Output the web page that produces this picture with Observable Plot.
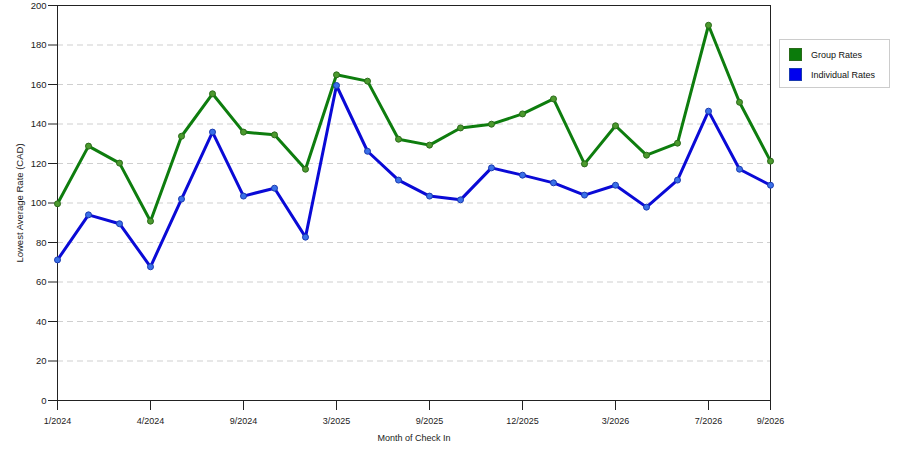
<!DOCTYPE html>
<html>
<head>
<meta charset="utf-8">
<script src="https://cdn.jsdelivr.net/npm/d3@7"></script>
<script src="https://cdn.jsdelivr.net/npm/@observablehq/plot@0.6"></script>
<style>
  html, body { margin: 0; padding: 0; background: #fff; }
  #wrap { position: relative; width: 900px; height: 450px; font-family: "Liberation Sans", Arial, sans-serif; }
  #legend { position: absolute; left: 779px; top: 39px; width: 109px; height: 47px; border: 1px solid #ccc; background: #fff; font-size: 9px; color: #111; }
  .item { position: absolute; left: 9px; height: 13px; }
  .sw { position: absolute; left: 0; top: 0; width: 11px; height: 11px; }
  .lab { position: absolute; left: 22px; top: 1px; white-space: nowrap; line-height: 12px; }
</style>
</head>
<body>
<div id="wrap">
  <div id="chart"></div>
  <div id="legend"></div>
</div>
<script>
const months = ["1/2024","2/2024","3/2024","4/2024","5/2024","7/2024","9/2024","10/2024","12/2024",
  "3/2025","5/2025","7/2025","9/2025","10/2025","11/2025","12/2025","1/2026","2/2026",
  "3/2026","4/2026","6/2026","7/2026","8/2026","9/2026"];
const tickLabels = ["1/2024","4/2024","9/2024","3/2025","9/2025","12/2025","3/2026","7/2026","9/2026"];
const groupRates = [99.6,128.8,120.2,90.8,133.8,155.3,135.9,134.5,117.1,164.9,161.7,132.3,129.3,138,139.9,145.1,152.7,119.8,139.1,124.2,130.3,190,151,121.2];
const individualRates = [71.2,94,89.5,67.7,102,135.9,103.5,107.5,82.7,159.5,126.2,111.6,103.5,101.6,117.8,114.1,110.2,104,109,97.9,111.6,146.5,117.1,109];
const seriesNames = ["Group Rates","Individual Rates"];
const lineColors = ["#0e7d0e","#0a0ad6"];
const dotFill = ["#4c9a2e","#3a70e8"];
const dotStroke = ["#2a6a1a","#1a3ab0"];
const swatchColors = ["#0b7b0b","#0000ee"];
const gridValues = [20,40,60,80,100,120,140,160,180];

const rows = [];
[groupRates, individualRates].forEach((vals, s) => {
  vals.forEach((v, i) => rows.push({series: seriesNames[s], month: months[i], value: v, s}));
});

const chart = Plot.plot({
  width: 900,
  height: 450,
  marginLeft: 57,
  marginRight: 130,
  marginTop: 5,
  marginBottom: 50,
  style: {fontFamily: "'Liberation Sans', Arial, sans-serif", fontSize: "9px", color: "#222", background: "#fff"},
  x: {type: "point", domain: months, padding: 0},
  y: {domain: [0, 200]},
  marks: [
    Plot.ruleY(gridValues, {stroke: "#cfcfcf", strokeDasharray: "6,4", strokeWidth: 1}),
    Plot.axisY({ticks: [0,20,40,60,80,100,120,140,160,180,200], tickSize: 9, tickPadding: 2, stroke: "#222",
      label: "Lowest Average Rate (CAD)", labelAnchor: "center", labelArrow: "none", labelOffset: 41, fontSize: 9.5}),
    Plot.axisX({ticks: tickLabels, tickSize: 10, tickPadding: 7, stroke: "#222",
      label: "Month of Check In", labelAnchor: "center", labelArrow: "none", labelOffset: 40, fontSize: 9}),
    Plot.frame({stroke: "#222", strokeWidth: 1}),
    ...[0,1].map(s => Plot.line(rows.filter(d => d.s === s), {x: "month", y: "value", stroke: lineColors[s], strokeWidth: 3, strokeLinejoin: "round"})),
    ...[0,1].map(s => Plot.dot(rows.filter(d => d.s === s), {x: "month", y: "value", r: 3, fill: dotFill[s], stroke: dotStroke[s], strokeWidth: 1}))
  ]
});
document.getElementById("chart").appendChild(chart);

const legend = document.getElementById("legend");
seriesNames.forEach((name, i) => {
  const item = document.createElement("div");
  item.className = "item";
  item.style.top = (8 + i * 20) + "px";
  item.innerHTML = `<div class="sw" style="background:${swatchColors[i]};border:1px solid ${dotStroke[i]}"></div><div class="lab">${name}</div>`;
  legend.appendChild(item);
});
</script>
</body>
</html>
